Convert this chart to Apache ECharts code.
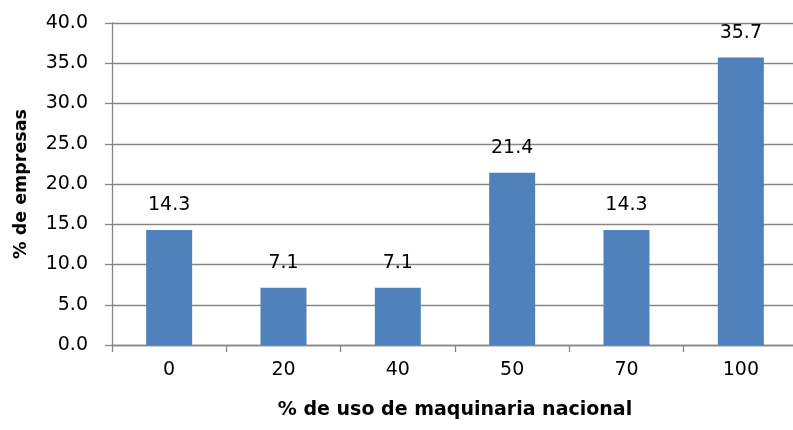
<!DOCTYPE html>
<html><head><meta charset="utf-8">
<script src="https://cdn.jsdelivr.net/npm/echarts@6/dist/echarts.min.js"></script>
<style>html,body{margin:0;padding:0;background:#fff}#c{width:793px;height:430px}</style>
</head><body><div id="c"></div>
<script>
const categories = ['0','20','40','50','70','100'];
const values = [14.3, 7.1, 7.1, 21.4, 14.3, 35.7];
const yTitle = '% de empresas';
const xTitle = '% de uso de maquinaria nacional';
const font = '"DejaVu Sans", sans-serif';
const chart = echarts.init(document.getElementById('c'), null, {renderer:'canvas'});
chart.setOption({
  animation:false,
  grid:{left:112, right:-5, top:23, bottom:85, outerBoundsMode:'none', containLabel:false},
  xAxis:{type:'category', data:categories,
    name:xTitle, nameLocation:'middle', nameGap:56,
    nameTextStyle:{fontFamily:font, fontSize:19, fontWeight:'bold', color:'#000'},
    axisLine:{lineStyle:{color:'#868686', width:1.3}},
    axisTick:{show:true, length:7, lineStyle:{color:'#868686', width:1.3}},
    axisLabel:{fontFamily:font, fontSize:19, color:'#000', margin:16}
  },
  yAxis:{type:'value', min:0, max:40, interval:5,
    name:yTitle, nameLocation:'middle', nameGap:82,
    nameTextStyle:{fontFamily:font, fontSize:17.5, fontWeight:'bold', color:'#000'},
    axisLine:{show:true, lineStyle:{color:'#868686', width:1.3}},
    axisTick:{show:true, length:7, lineStyle:{color:'#868686', width:1.3}},
    splitLine:{lineStyle:{color:'#868686', width:1.3}},
    axisLabel:{fontFamily:font, fontSize:19, color:'#000', margin:24, formatter:v=>v.toFixed(1)}
  },
  series:[{type:'bar', data:values, barWidth:46,
    itemStyle:{color:'#4F81BD'},
    label:{show:true, position:'top', distance:15, fontFamily:font, fontSize:19, color:'#000', formatter:p=>p.value.toFixed(1)}
  }]
});
</script></body></html>
